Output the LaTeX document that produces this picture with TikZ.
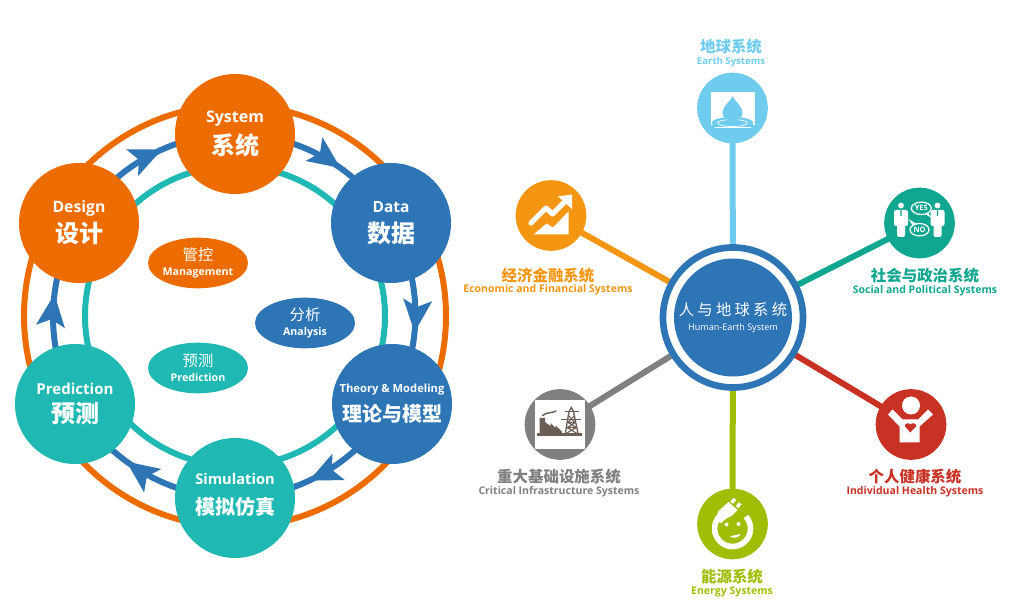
\documentclass[tikz,border=0pt]{standalone}
\usepackage{fontspec}
\setmainfont{Open Sans}
\newfontfamily\cjk{Noto Sans CJK SC}
\usetikzlibrary{arrows.meta, backgrounds, decorations.markings, shapes.geometric}

\definecolor{ringorange}{HTML}{EC6C00}
\definecolor{ringblue}{HTML}{2E75B6}
\definecolor{ringteal}{HTML}{20B8B2}
\definecolor{earthsky}{HTML}{6FCCEE}
\definecolor{socialgreen}{HTML}{11A68F}
\definecolor{financeorange}{HTML}{F59613}
\definecolor{infragray}{HTML}{808080}
\definecolor{infrabrown}{HTML}{6B5F55}
\definecolor{energylime}{HTML}{A0BE05}
\definecolor{healthred}{HTML}{C83225}

\newcommand{\stagetext}[5]{{\fontsize{#1}{#1}\selectfont\bfseries #4}\\[#3]{\cjk\bfseries\fontsize{#2}{#2}\selectfont #5}}
\newcommand{\ovaltext}[2]{{\cjk\fontsize{11.5}{11.5}\selectfont #1}\\[-1pt]{\fontsize{8}{8}\selectfont\bfseries #2}}
\newcommand{\systext}[3]{{\cjk\bfseries\fontsize{11.6}{11.6}\selectfont #2}\\[-3.5pt]{\fontsize{#1}{#1}\selectfont\bfseries #3}}
\newcommand{\hubgap}{\hspace{2.45pt}}

\tikzset{
  stagenode/.style={circle, minimum size=90pt, inner sep=0pt, text=white, align=center, fill=#1},
  ovalnode/.style={ellipse, minimum width=75pt, minimum height=38pt, inner sep=0pt, text=white, align=center, fill=#1},
  satnode/.style={circle, minimum size=53pt, inner sep=0pt, fill=#1},
  syslabel/.style={text=#1, align=center, inner sep=0pt},
  spoke/.style={line width=4.5pt, draw=#1},
  bigring/.style={line width=4.5pt, draw=#1},
  flowarc/.style={line width=4.5pt, draw=ringblue, bend left=30, looseness=0.9,
    postaction={decorate, decoration={markings, mark=at position 0.6 with
      {\arrow{Stealth[length=24pt, width=21pt, inset=5pt]}}}}},
}

\begin{document}
\begin{tikzpicture}[x=0.75pt, y=-0.75pt]
\useasboundingbox (0,0) rectangle (1014,605);

% Cycle nodes
\coordinate (cyclehub) at (235,316);
\node[stagenode=ringorange] (system) at (235,134) {\stagetext{12}{18}{3.8pt}{System}{系统}};
\node[stagenode=ringblue] (data) at (391,223) {\stagetext{11.6}{18}{6pt}{Data}{数据}};
\node[stagenode=ringblue] (theory) at (392,404) {\stagetext{8.4}{15}{6pt}{Theory \& Modeling}{理论与模型}};
\node[stagenode=ringteal, label={[align=center, text=white, yshift=2.25pt]center:\stagetext{11}{15}{9pt}{Simulation}{模拟仿真}}] (simulation) at (235,498) {};
\node[stagenode=ringteal] (prediction) at (75,404) {\stagetext{11.3}{18}{5pt}{Prediction}{预测}};
\node[stagenode=ringorange] (design) at (79,223) {\stagetext{11.8}{18}{3.5pt}{Design}{设计}};

% Inner ovals
\node[ovalnode=ringorange] (mgmtoval) at (198,263) {\ovaltext{管控}{Management}};
\node[ovalnode=ringblue] (analysisoval) at (305,323) {\ovaltext{分析}{Analysis}};
\node[ovalnode=ringteal] (predictoval) at (198,368) {\ovaltext{预测}{Prediction}};

% Hub and satellites
\node[circle, minimum size=105pt, inner sep=0pt, fill=white, draw=ringblue, line width=5pt] (hub) at (733,317.5) {};
\node[circle, minimum size=88.5pt, inner sep=0pt, fill=ringblue, text=white, align=center] (hubcore) at (733,317.5)
  {{\cjk\fontsize{11.5}{11.5}\selectfont 人\hubgap 与\hubgap 地\hubgap 球\hubgap 系\hubgap 统}\\[-1pt]{\fontsize{6.8}{6.8}\selectfont Human-Earth System}};
\node[satnode=earthsky] (earth) at (732.5,108) {};
\node[satnode=socialgreen] (social) at (919.5,223) {};
\node[satnode=healthred] (health) at (911,424.5) {};
\node[satnode=energylime] (energy) at (732.5,524) {};
\node[satnode=infragray] (infra) at (560,424.5) {};
\node[satnode=financeorange] (finance) at (551,215.5) {};

% Rings, arcs and spokes behind the nodes
\begin{scope}[on background layer]
\draw[bigring=ringorange] (cyclehub) circle [radius=211];
\draw[bigring=ringteal] (cyclehub) circle [radius=150];
\draw[flowarc] (design.center) to (system.center);
\draw[flowarc] (system.center) to (data.center);
\draw[flowarc] (data.center) to (theory.center);
\draw[flowarc] (theory.center) to (simulation.center);
\draw[flowarc] (simulation.center) to (prediction.center);
\draw[flowarc] (prediction.center) to (design.center);
\draw[spoke=earthsky] (hub.center) -- (earth.center);
\draw[spoke=socialgreen] (hub.center) -- (social.center);
\draw[spoke=healthred] (hub.center) -- (health.center);
\draw[spoke=energylime] (hub.center) -- (energy.center);
\draw[spoke=infragray] (hub.center) -- (infra.center);
\draw[spoke=financeorange] (hub.center) -- (finance.center);
\end{scope}

% Labels
\node[syslabel=earthsky] (earthlabel) at (731,53) {\systext{7.2}{地球系统}{Earth Systems}};
\node[syslabel=financeorange] (financelabel) at (548,281.5) {\systext{7.9}{经济金融系统}{Economic and Financial Systems}};
\node[syslabel=socialgreen] (sociallabel) at (925,282) {\systext{7.9}{社会与政治系统}{Social and Political Systems}};
\node[syslabel=infragray] (infralabel) at (559,483) {\systext{7.9}{重大基础设施系统}{Critical Infrastructure Systems}};
\node[syslabel=healthred] (healthlabel) at (915,483) {\systext{7.9}{个人健康系统}{Individual Health Systems}};
\node[syslabel=energylime] (energylabel) at (732,583) {\systext{7.9}{能源系统}{Energy Systems}};

% Earth icon
\begin{scope}[shift={(732.5,108)}]
\fill[white] (-22,-16) rectangle (22.5,17);
\fill[earthsky] (0,15) ellipse [x radius=21, y radius=6];
\draw[white, line width=0.5pt] (0,15) ellipse [x radius=15, y radius=3.5];
\draw[white, line width=0.5pt] (-18,19) -- (18,19);
\fill[earthsky] (0,-12) .. controls (1,-8) and (10,-2) .. (10,5) .. controls (10,10) and (5,13) .. (0,13) .. controls (-5,13) and (-10,10) .. (-10,5) .. controls (-10,-2) and (-1,-8) .. (0,-12) -- cycle;
\end{scope}

% Social icon
\begin{scope}[shift={(919.5,223)}]
\foreach \px in {-18.5,18} {
  \fill[white] (\px,-17.5) circle [radius=2.9];
  \fill[white, rounded corners=1.5pt] (\px-7,-13) rectangle (\px+7,3);
  \fill[white, rounded corners=1.5pt] (\px-4,0) rectangle (\px+4,14);
  \fill[socialgreen] (\px-0.5,-13) -- (\px+0.5,-13) -- (\px+0.7,-7) -- (\px-0.7,-7) -- cycle;
}
\draw[white, line width=0.9pt] (1.8,-14.7) ellipse [x radius=10, y radius=6.2];
\draw[white, line width=0.9pt] (8,-10) -- (10,-7) -- (6,-9.5);
\draw[white, line width=0.9pt] (0,6.7) ellipse [x radius=9.5, y radius=6.2];
\draw[white, line width=0.9pt] (-6,2.5) -- (-9,-2) -- (-3,1.5);
\node[text=white, inner sep=0pt, font=\bfseries\fontsize{5.6}{5.6}\selectfont] (yestext) at (1.8,-14.7) {YES};
\node[text=white, inner sep=0pt, font=\bfseries\fontsize{5.6}{5.6}\selectfont] (notext) at (0,6.7) {NO};
\end{scope}

% Finance icon
\begin{scope}[shift={(551,215.5)}]
\draw[white, line width=3.8pt, line cap=round, line join=round] (-20,7.5) -- (-5,-7.5) -- (1.5,-1.5) -- (13,-13);
\fill[white] (7,-19) -- (21,-21) -- (21,-6.5) -- cycle;
\fill[white] (-17.5,19) -- (-4.5,8) -- (2,12) -- (17.5,-4) -- (17.5,19) -- cycle;
\end{scope}

% Infrastructure icon
\begin{scope}[shift={(560,424.5)}]
\fill[white] (-24.7,-24.5) rectangle (25,25);
\fill[infrabrown] (-23.5,8.3) rectangle (21.5,11.5);
\fill[infrabrown] (-20.5,9) -- (-20.5,-6.5) -- (-15,-6.5) -- (-15,-2.5) -- (-9.5,1.5) -- (-9.5,-1.5) -- (-4.5,3.5) -- (-4.5,1) -- (2,7) -- (2,9) -- cycle;
\draw[infrabrown, line width=1.1pt, line cap=round] (-17.5,-9) .. controls (-12,-13) and (-8,-11) .. (-4,-13.5);
\draw[infrabrown, line width=1pt] (5.3,9) -- (9,-13) -- (11.3,-17) -- (13.5,-13) -- (18,9);
\draw[infrabrown, line width=0.8pt] (8,-2) -- (15.5,-2) (7,3) -- (17,9) (16.5,3) -- (6,9) (8.5,-9) -- (15,-2) (14.5,-9) -- (8,-2) (7.3,3) -- (16.5,3) (8,-2) -- (16.5,3) (15.5,-2) -- (7.3,3);
\draw[infrabrown, line width=1pt] (4.5,-13) -- (18.5,-13) (1.3,-5) -- (21.3,-5);
\end{scope}

% Energy icon
\begin{scope}[shift={(732.5,524)}]
\draw[white, line width=4.2pt] (13.4,-7.5) arc [start angle=-42, end angle=230, radius=18];
\fill[white] (-17,-3) .. controls (-16,-7) and (-15,-11) .. (-14,-13) -- (-4,-22) -- (5,-14) -- (-1,-8) .. controls (-5,-6) and (-8,-5) .. (-11,-1) -- cycle;
\fill[white, rotate around={-40:(0,-22.3)}] (-1.7,-26) rectangle (1.7,-21);
\fill[white, rotate around={-40:(5.5,-18)}] (3.8,-21.5) rectangle (7.2,-16.5);
\fill[white] (-6,0.5) circle [radius=2];
\fill[white] (6,0) circle [radius=2];
\fill[white] (-3,12) .. controls (2,12) and (6,10) .. (8,10) .. controls (7,14) and (0,15) .. (-3,12) -- cycle;
\end{scope}

% Health icon
\begin{scope}[shift={(911,424.5)}]
\fill[white] (0,-19) circle [radius=9];
\fill[white] (-23,-10) -- (-18.5,-15) -- (-8.5,-5) -- (7,-5) -- (17,-15) -- (22,-10) -- (8.5,2) -- (8.5,18) -- (-11.5,18) -- (-11.5,2) -- cycle;
\fill[healthred] (-0.7,8) -- (-6,2) .. controls (-7,-1) and (-2,-2.5) .. (-0.7,0) .. controls (1,-2.5) and (6,-1) .. (5,2) -- cycle;
\end{scope}
\end{tikzpicture}
\end{document}
